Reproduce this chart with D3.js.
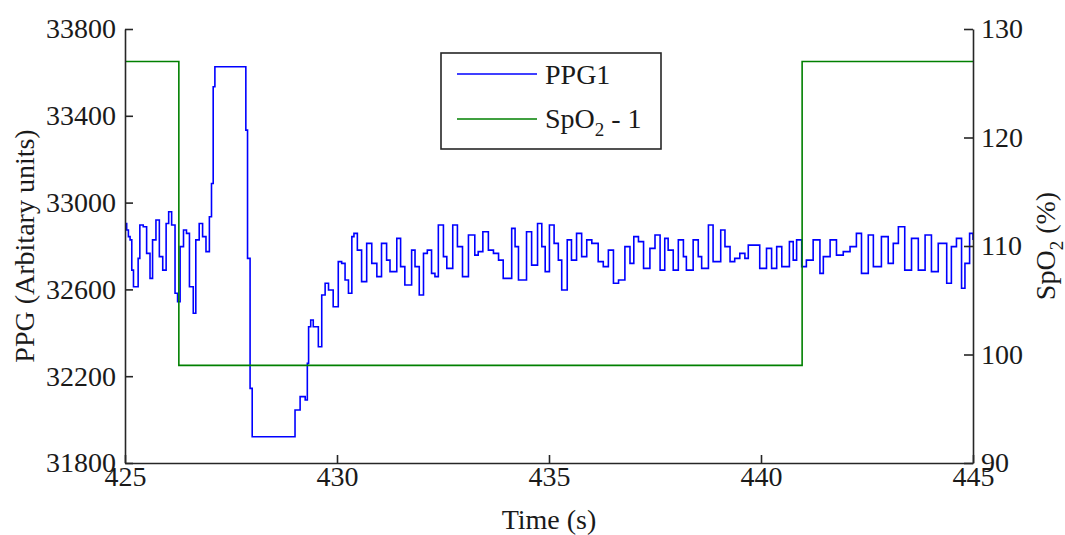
<!DOCTYPE html>
<html>
<head>
<meta charset="utf-8">
<script src="https://cdn.jsdelivr.net/npm/d3@7"></script>
<style>
  body { margin: 0; background: white; }
  text { font-family: "Liberation Serif", "Times New Roman", serif; fill: #1a1a1a; }
</style>
</head>
<body>
<script>
// PPG trace (time in s, arbitrary units)
var ppgTime = [
  425.00, 425.04, 425.08, 425.12, 425.16, 425.20, 425.26, 425.31, 425.35, 425.43,
  425.51, 425.59, 425.65, 425.73, 425.81, 425.89, 425.97, 426.03, 426.10, 426.18,
  426.24, 426.30, 426.38, 426.45, 426.52, 426.61, 426.67, 426.75, 426.83, 426.91,
  426.99, 427.04, 427.08, 427.12, 427.85, 427.89, 427.95, 428.00, 429.01, 429.13,
  429.25, 429.30, 429.33, 429.38, 429.44, 429.56, 429.64, 429.72, 429.80, 429.91,
  430.03, 430.11, 430.19, 430.27, 430.35, 430.40, 430.48, 430.58, 430.70, 430.82,
  430.94, 431.05, 431.17, 431.25, 431.41, 431.50, 431.60, 431.76, 431.84, 431.94,
  432.04, 432.13, 432.23, 432.31, 432.39, 432.51, 432.59, 432.73, 432.84, 432.96,
  433.10, 433.25, 433.33, 433.44, 433.57, 433.69, 433.81, 433.92, 434.12, 434.20,
  434.28, 434.47, 434.59, 434.73, 434.83, 434.91, 435.01, 435.12, 435.22, 435.30,
  435.43, 435.53, 435.65, 435.77, 435.89, 436.01, 436.16, 436.28, 436.40, 436.52,
  436.64, 436.79, 436.91, 437.00, 437.11, 437.23, 437.38, 437.50, 437.62, 437.73,
  437.81, 437.93, 438.05, 438.17, 438.24, 438.40, 438.52, 438.60, 438.76, 438.87,
  439.05, 439.15, 439.27, 439.38, 439.50, 439.62, 439.70, 439.82, 439.97, 440.13,
  440.25, 440.37, 440.49, 440.67, 440.76, 440.84, 440.96, 441.07, 441.23, 441.39,
  441.47, 441.63, 441.78, 441.94, 442.10, 442.25, 442.37, 442.53, 442.65, 442.84,
  443.00, 443.12, 443.24, 443.39, 443.55, 443.71, 443.87, 444.02, 444.18, 444.30,
  444.38, 444.49, 444.61, 444.73, 444.81, 444.92, 445.00
];
var ppgValue = [
  32904, 32874, 32843, 32828, 32689, 32612, 32612, 32743, 32897, 32889,
  32766, 32651, 32828, 32920, 32751, 32689, 32904, 32958, 32897, 32582,
  32543, 32797, 32874, 32858, 32612, 32490, 32828, 32904, 32843, 32774,
  32935, 33088, 33534, 33626, 33334, 32743, 32144, 31921, 32044, 32106,
  32090, 32259, 32428, 32459, 32428, 32336, 32574, 32628, 32597, 32520,
  32728, 32720, 32643, 32582, 32843, 32858, 32781, 32636, 32812, 32720,
  32659, 32812, 32735, 32682, 32835, 32705, 32620, 32781, 32705, 32574,
  32766, 32781, 32674, 32659, 32897, 32751, 32697, 32897, 32797, 32659,
  32851, 32758, 32774, 32866, 32781, 32766, 32735, 32651, 32881, 32797,
  32643, 32866, 32712, 32904, 32797, 32682, 32897, 32812, 32735, 32597,
  32828, 32735, 32858, 32751, 32828, 32812, 32728, 32705, 32781, 32628,
  32643, 32797, 32720, 32843, 32820, 32697, 32789, 32851, 32689, 32835,
  32781, 32689, 32828, 32751, 32689, 32828, 32751, 32697, 32897, 32728,
  32874, 32797, 32728, 32743, 32766, 32743, 32804, 32804, 32697, 32789,
  32697, 32797, 32705, 32820, 32735, 32828, 32705, 32735, 32828, 32674,
  32751, 32828, 32758, 32774, 32797, 32858, 32674, 32851, 32705, 32843,
  32720, 32812, 32889, 32689, 32835, 32689, 32851, 32682, 32812, 32812,
  32628, 32797, 32835, 32605, 32720, 32858, 32828
];

// SpO2 - 1 step signal (%)
var spo2Time = [425, 426.27, 440.97, 445];
var spo2Value = [127, 99, 127, 127];

// ticks
var timeTicks = [425, 430, 435, 440, 445];
var ppgTicks = [31800, 32200, 32600, 33000, 33400, 33800];
var spo2Ticks = [90, 100, 110, 120, 130];

var width = 1065,
    height = 535;
var plotLeft = 125, plotRight = 973, plotTop = 29, plotBottom = 463;

var svg = d3.select("body").append("svg")
  .attr("width", width)
  .attr("height", height);

var x = d3.scaleLinear().domain([425, 445]).range([plotLeft, plotRight]);
var yL = d3.scaleLinear().domain([31800, 33800]).range([plotBottom, plotTop]);
var yR = d3.scaleLinear().domain([90, 130]).range([plotBottom, plotTop]);

var ppg = ppgTime.map(function(t, i) { return [t, ppgValue[i]]; });
var spo2 = spo2Time.map(function(t, i) { return [t, spo2Value[i]]; });

var ppgLine = d3.line()
  .x(function(d) { return x(d[0]); })
  .y(function(d) { return yL(d[1]); })
  .curve(d3.curveStepAfter);

var spo2Line = d3.line()
  .x(function(d) { return x(d[0]); })
  .y(function(d) { return yR(d[1]); })
  .curve(d3.curveStepAfter);

svg.append("path")
  .datum(ppg)
  .attr("d", ppgLine)
  .style("fill", "none")
  .style("stroke", "#0000ff")
  .style("stroke-width", 1.6);

svg.append("path")
  .datum(spo2)
  .attr("d", spo2Line)
  .style("fill", "none")
  .style("stroke", "#008000")
  .style("stroke-width", 1.6);

// axes
var fontSize = 28;

function styleAxis(g) {
  g.select(".domain").style("stroke", "#262626").style("stroke-width", 1.6);
  g.selectAll(".tick line").style("stroke", "#262626").style("stroke-width", 1.6);
  g.selectAll(".tick text")
    .style("font-family", "'Liberation Serif', serif")
    .style("font-size", fontSize + "px")
    .style("fill", "#1a1a1a");
}

svg.append("g")
  .attr("transform", "translate(0," + plotBottom + ")")
  .call(d3.axisBottom(x).tickValues(timeTicks).tickFormat(d3.format("d"))
    .tickSize(-8).tickSizeOuter(0).tickPadding(3))
  .call(styleAxis);

svg.append("g")
  .attr("transform", "translate(" + plotLeft + ",0)")
  .call(d3.axisLeft(yL).tickValues(ppgTicks).tickFormat(d3.format("d"))
    .tickSize(-8).tickSizeOuter(0).tickPadding(9))
  .call(styleAxis);

svg.append("g")
  .attr("transform", "translate(" + plotRight + ",0)")
  .call(d3.axisRight(yR).tickValues(spo2Ticks).tickFormat(d3.format("d"))
    .tickSize(-9).tickSizeOuter(0).tickPadding(8))
  .call(styleAxis);

// axis titles
svg.append("text")
  .attr("x", (plotLeft + plotRight) / 2)
  .attr("y", 529)
  .attr("text-anchor", "middle")
  .style("font-size", fontSize + "px")
  .text("Time (s)");

svg.append("text")
  .attr("transform", "translate(34," + (plotTop + plotBottom) / 2 + ") rotate(-90)")
  .attr("text-anchor", "middle")
  .style("font-size", fontSize + "px")
  .text("PPG (Arbitary units)");

var rTitle = svg.append("text")
  .attr("transform", "translate(1055," + (plotTop + plotBottom) / 2 + ") rotate(-90)")
  .attr("text-anchor", "middle")
  .style("font-size", fontSize + "px");
rTitle.append("tspan").text("SpO");
rTitle.append("tspan").attr("dy", 8).style("font-size", "19px").text("2");
rTitle.append("tspan").attr("dy", -8).text(" (%)");

// legend
var legend = svg.append("g");
legend.append("rect")
  .attr("x", 441).attr("y", 53)
  .attr("width", 220).attr("height", 96)
  .style("fill", "white")
  .style("stroke", "#262626")
  .style("stroke-width", 1.6);

legend.append("line")
  .attr("x1", 457).attr("x2", 537).attr("y1", 74).attr("y2", 74)
  .style("stroke", "#0000ff").style("stroke-width", 1.6);
legend.append("line")
  .attr("x1", 457).attr("x2", 537).attr("y1", 119).attr("y2", 119)
  .style("stroke", "#008000").style("stroke-width", 1.6);

legend.append("text")
  .attr("x", 545).attr("y", 84)
  .style("font-size", fontSize + "px")
  .text("PPG1");

var lt = legend.append("text")
  .attr("x", 545).attr("y", 128)
  .style("font-size", fontSize + "px");
lt.append("tspan").text("SpO");
lt.append("tspan").attr("dy", 8).style("font-size", "19px").text("2");
lt.append("tspan").attr("dy", -8).text(" - 1");
</script>
</body>
</html>
